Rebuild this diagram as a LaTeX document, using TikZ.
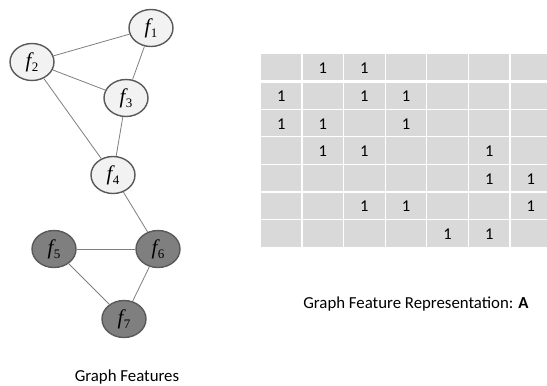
\documentclass[tikz,border=0pt]{standalone}
\usepackage{fontspec}
\setmainfont{Carlito}
\newfontfamily\nodeserif{Liberation Serif}
\usetikzlibrary{shapes.geometric}
\definecolor{edgegray}{HTML}{7F7F7F}
\definecolor{bordergray}{HTML}{595959}
\definecolor{lightfill}{HTML}{F2F2F2}
\definecolor{darkfill}{HTML}{7F7F7F}
\definecolor{cellgray}{HTML}{D9D9D9}
\newcommand{\flab}[1]{{\nodeserif\fontsize{21}{21}\selectfont\itshape f}\kern0.5pt\raisebox{-4pt}{\nodeserif\fontsize{13}{13}\selectfont #1}}
\begin{document}
\begin{tikzpicture}[x=1pt,y=-1pt,
  feat/.style={ellipse,draw=bordergray,line width=1.4pt,minimum width=44pt,minimum height=37pt,inner sep=0pt},
  lightfeat/.style={feat,fill=lightfill},
  darkfeat/.style={feat,fill=darkfill},
  edge/.style={draw=edgegray,line width=0.8pt},
  cell/.style={fill=cellgray},
  one/.style={font=\fontsize{16.5}{16.5}\selectfont,inner sep=0pt},
  caption/.style={font=\fontsize{16.8}{16.8}\selectfont,inner sep=0pt}]
\useasboundingbox (0,0) rectangle (547,386);
\fill[white] (0,0) rectangle (547,386);
% table
\foreach \r/\top in {1/54,2/82.7,3/110,4/137.3,5/164.9,6/192.5,7/220.1}{
  \foreach \c in {1,...,7}{
    \pgfmathsetmacro{\lx}{261+41.6*(\c-1)}
    \fill[cell] (\lx,\top) rectangle ++(40.4,26.4);
  }
}
\foreach \r/\c in {1/2,1/3,2/1,2/3,2/4,3/1,3/2,3/4,4/2,4/3,4/6,5/6,5/7,6/3,6/4,6/7,7/5,7/6}{
  \pgfmathsetmacro{\cx}{261+41.6*(\c-1)+20.2}
  \pgfmathsetmacro{\cy}{\r==1 ? 68 : 82.7+27.5*(\r-2)+13.8}
  \node[one] (m\r\c) at (\cx,\cy) {1};
}
% graph
\node[lightfeat] (f1) at (151,28) {\flab{1}};
\node[lightfeat] (f2) at (32,62) {\flab{2}};
\node[lightfeat] (f3) at (126,98) {\flab{3}};
\node[lightfeat] (f4) at (113,175) {\flab{4}};
\node[darkfeat] (f5) at (54,249) {\flab{5}};
\node[darkfeat] (f6) at (158,249) {\flab{6}};
\node[darkfeat] (f7) at (124,319) {\flab{7}};
\draw[edge] (f1) -- (f2);
\draw[edge] (f1) -- (f3);
\draw[edge] (f2) -- (f3);
\draw[edge] (f2) -- (f4);
\draw[edge] (f3) -- (f4);
\draw[edge] (f4) -- (f6);
\draw[edge] (f5) -- (f6);
\draw[edge] (f5) -- (f7);
\draw[edge] (f6) -- (f7);
% captions
\node[caption] (cap1) at (127,377) {Graph Features};
\node[caption] (cap2) at (416,304) {Graph Feature Representation: \textbf{A}};
\end{tikzpicture}
\end{document}
